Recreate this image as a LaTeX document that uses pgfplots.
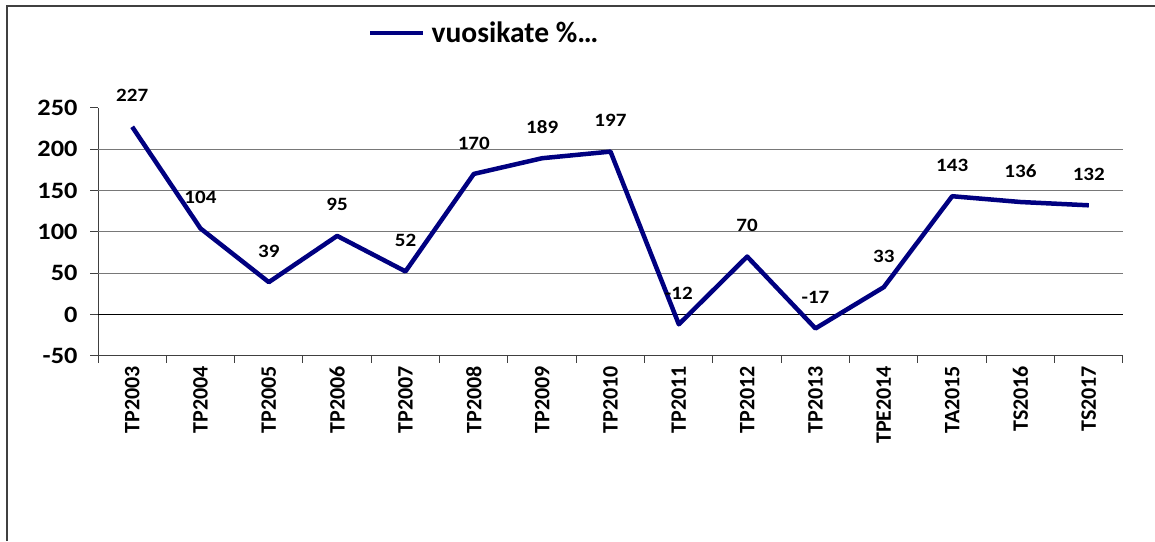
\documentclass[border=0pt]{standalone}
\usepackage{fontspec}
\setmainfont{Carlito}
\newfontfamily\widefont[FakeStretch=1.12]{Carlito}
\usepackage{pgfplots}
\pgfplotsset{compat=1.18}
\definecolor{navyline}{RGB}{0,0,128}
\definecolor{gridgray}{RGB}{120,120,120}
\begin{document}
\begin{tikzpicture}
\useasboundingbox (0,0) rectangle (1155pt,-541pt);
\draw[line width=1.5pt, black!75] (7pt,-541pt) -- (7pt,-6pt) -- (1156pt,-6pt);
\begin{axis}[
  at={(98pt,-355.7pt)}, anchor=south west,
  scale only axis, width=1025pt, height=247.9pt,
  xmin=-0.5, xmax=14.5, ymin=-50, ymax=250,
  clip=false,
  axis lines*=left,
  axis line style={black!75, line width=1pt},
  tick align=outside,
  major tick length=8pt,
  minor tick length=7pt,
  tick style={black!75, line width=1pt},
  xtick={0,...,14},
  xticklabels={TP2003,TP2004,TP2005,TP2006,TP2007,TP2008,TP2009,TP2010,TP2011,TP2012,TP2013,TPE2014,TA2015,TS2016,TS2017},
  major x tick style={draw=none},
  minor xtick={-0.5,0.5,...,14.5},
  x tick label style={rotate=90, anchor=east, inner sep=2pt, font=\fontsize{22}{22}\selectfont\bfseries},
  ytick={-50,0,...,250},
  y tick label style={xshift=-9pt, font=\widefont\fontsize{23.5}{23.5}\selectfont\bfseries},
  /pgf/number format/assume math mode=true,
  extra y ticks={0,50,100,150,200},
  extra y tick labels={},
  extra y tick style={grid=major, major tick length=0pt},
  grid style={gridgray, line width=1pt},
  legend style={at={(0.2634,1.3017)}, anchor=west, draw=none, fill=none, inner sep=0pt,
    nodes={inner sep=0pt}, /tikz/column sep=6pt, font=\fontsize{29.5}{29.5}\selectfont\bfseries},
  legend image code/.code={\draw[#1] (0pt,0pt) -- (53pt,0pt);},
  nodes near coords={\pgfmathprintnumber{\pgfplotspointmeta}},
  every node near coord/.append style={anchor=center, yshift=31pt, font=\widefont\fontsize{18.8}{18.8}\selectfont\bfseries, text=black},
]
\draw[black, line width=1pt] (axis cs:-0.5,0) -- (axis cs:14.5,0);
\addplot[navyline, line width=4.5pt, line join=round, mark=none] coordinates {
  (0,227) (1,104) (2,39) (3,95) (4,52) (5,170) (6,189) (7,197)
  (8,-12) (9,70) (10,-17) (11,33) (12,143) (13,136) (14,132)
};
\addlegendentry{vuosikate \%…}
\end{axis}
\end{tikzpicture}
\end{document}
